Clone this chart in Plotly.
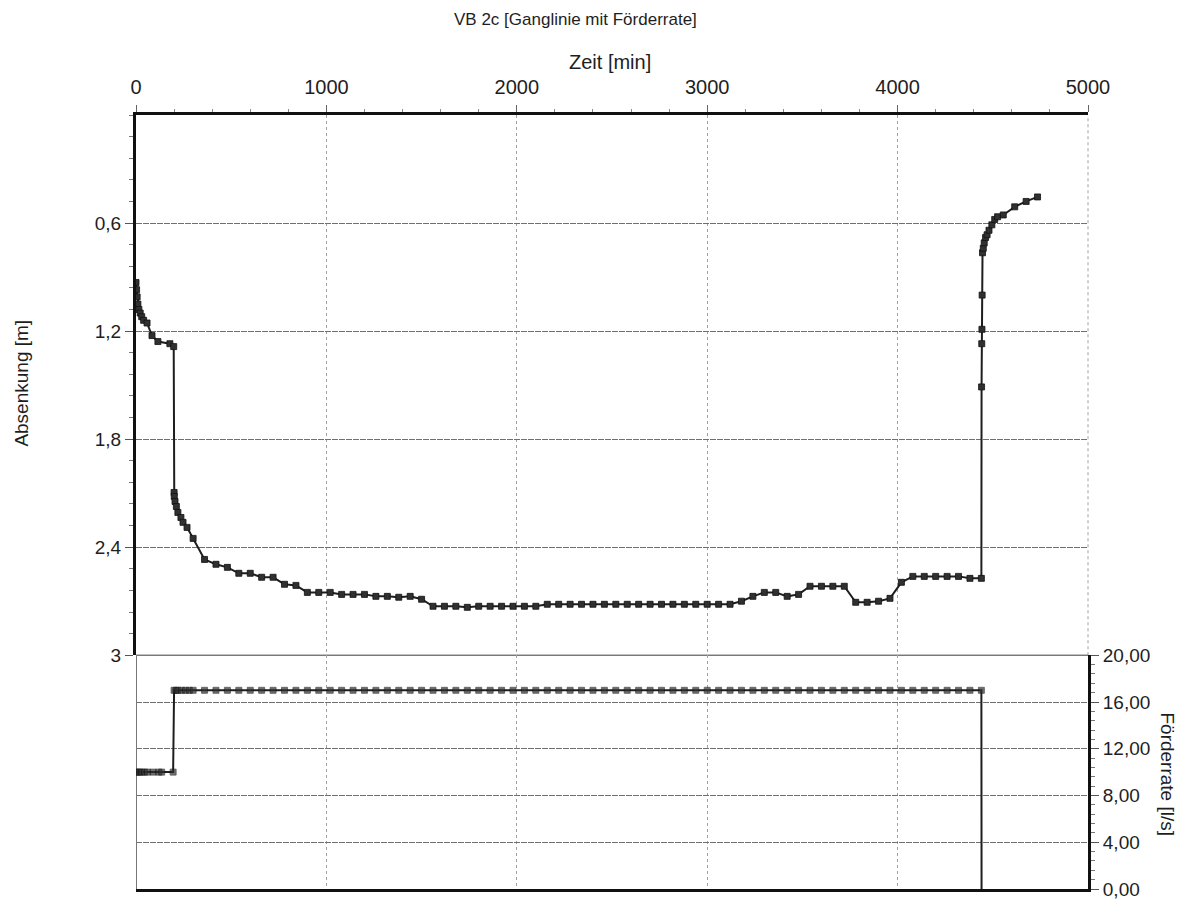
import plotly.graph_objects as go

# ---------------- data ----------------
# Absenkung [m] vs Zeit [min]
stage1_t = [0, 3, 6, 10, 15, 22, 30, 40, 58, 84, 115, 178, 198]
stage1_abs = [0.93, 0.97, 1.01, 1.05, 1.08, 1.10, 1.12, 1.14, 1.155, 1.225, 1.258, 1.27, 1.286]

stage2_t = [200, 201, 205, 212, 220, 236, 247, 268, 300]
stage2_abs = [2.096, 2.118, 2.146, 2.174, 2.207, 2.235, 2.262, 2.290, 2.351]

hourly_t = [360, 420, 480, 540, 600, 660, 720, 780, 840, 900,
            960, 1020, 1080, 1140, 1200, 1260, 1320, 1380, 1440, 1500,
            1560, 1620, 1680, 1740, 1800, 1860, 1920, 1980, 2040, 2100,
            2160, 2220, 2280, 2340, 2400, 2460, 2520, 2580, 2640, 2700,
            2760, 2820, 2880, 2940, 3000, 3060, 3120, 3180, 3240, 3300,
            3360, 3420, 3480, 3540, 3600, 3660, 3720, 3780, 3840, 3900,
            3960, 4020, 4080, 4140, 4200, 4260, 4320, 4380, 4440]
hourly_abs = [2.468, 2.495, 2.512, 2.545, 2.545, 2.567, 2.567, 2.606, 2.612, 2.651,
              2.651, 2.651, 2.662, 2.662, 2.662, 2.673, 2.673, 2.678, 2.673, 2.689,
              2.728, 2.728, 2.728, 2.734, 2.728, 2.728, 2.728, 2.728, 2.728, 2.728,
              2.717, 2.717, 2.717, 2.717, 2.717, 2.717, 2.717, 2.717, 2.717, 2.717,
              2.717, 2.717, 2.717, 2.717, 2.717, 2.717, 2.717, 2.700, 2.673, 2.651,
              2.651, 2.673, 2.662, 2.617, 2.617, 2.617, 2.617, 2.706, 2.706, 2.700,
              2.684, 2.595, 2.562, 2.562, 2.562, 2.562, 2.562, 2.573, 2.573]

recovery_t = [4441, 4442, 4443, 4444, 4446, 4450, 4455, 4462, 4470, 4480,
              4495, 4510, 4525, 4555, 4615, 4675, 4735]
recovery_abs = [1.51, 1.27, 1.19, 1.00, 0.765, 0.74, 0.71, 0.68, 0.665, 0.64,
                0.61, 0.58, 0.565, 0.555, 0.51, 0.48, 0.455]

# Förderrate [l/s]
rate1_t = [0, 10, 20, 30, 45, 60, 90, 120, 135, 195]
rate1_q = [10, 10, 10, 10, 10, 10, 10, 10, 10, 10]
rate2_t = [200, 210, 220, 240, 260, 280, 300]
rate2_q = [17, 17, 17, 17, 17, 17, 17]
hourly_q = [17, 17, 17, 17, 17, 17, 17, 17, 17, 17,
            17, 17, 17, 17, 17, 17, 17, 17, 17, 17,
            17, 17, 17, 17, 17, 17, 17, 17, 17, 17,
            17, 17, 17, 17, 17, 17, 17, 17, 17, 17,
            17, 17, 17, 17, 17, 17, 17, 17, 17, 17,
            17, 17, 17, 17, 17, 17, 17, 17, 17, 17,
            17, 17, 17, 17, 17, 17, 17, 17, 17]
stop_t = [4441]
stop_q = [0]

y_tickvals = [0.6, 1.2, 1.8, 2.4, 3]
y_ticktext = ["0,6", "1,2", "1,8", "2,4", "3"]
q_tickvals = [0, 4, 8, 12, 16, 20]
q_ticktext = ["0,00", "4,00", "8,00", "12,00", "16,00", "20,00"]
x_tickvals = [0, 1000, 2000, 3000, 4000, 5000]

# ---------------- figure ----------------
FONT = "Liberation Sans, Arial, sans-serif"
INK = "#1e1e1e"

abs_t = stage1_t + stage2_t + hourly_t + recovery_t
abs_v = stage1_abs + stage2_abs + hourly_abs + recovery_abs
rate_t = rate1_t + rate2_t + hourly_t + stop_t
rate_q = rate1_q + rate2_q + hourly_q + stop_q
rate_sizes = [6] * (len(rate_t) - len(stop_t)) + [0] * len(stop_t)

fig = go.Figure()
fig.add_trace(go.Scatter(
    x=abs_t, y=abs_v, xaxis="x", yaxis="y", mode="lines+markers",
    line=dict(color=INK, width=2),
    marker=dict(symbol="square", size=6, color="#303030", line=dict(color="#111", width=0.8)),
    showlegend=False, hoverinfo="x+y"))
fig.add_trace(go.Scatter(
    x=rate_t, y=rate_q, xaxis="x2", yaxis="y2", mode="lines+markers",
    line=dict(color=INK, width=2),
    marker=dict(symbol="square", size=rate_sizes, color="#303030", line=dict(color="#111", width=0.8)),
    showlegend=False, hoverinfo="x+y"))

grid_x = dict(showgrid=True, gridcolor="#a0a0a0", gridwidth=1, griddash="dot")
grid_y = dict(showgrid=True, gridcolor="#707070", gridwidth=1, griddash="6px,1px")

# frame lines that Plotly omits at range ends (thin grid-like borders)
frame = [
    dict(type="line", xref="x domain", yref="y domain", x0=1, x1=1, y0=0, y1=1,
         line=dict(color="#a0a0a0", width=1, dash="dot"), layer="below"),
    dict(type="line", xref="x domain", yref="y domain", x0=0, x1=1, y0=0, y1=0,
         line=dict(color="#707070", width=1), layer="below"),
    dict(type="line", xref="x2 domain", yref="y2 domain", x0=0, x1=1, y0=1, y1=1,
         line=dict(color="#707070", width=1), layer="below"),
]

fig.update_layout(
    width=1194, height=904,
    margin=dict(l=128, r=114, t=107, b=21),
    paper_bgcolor="white", plot_bgcolor="white",
    font=dict(family=FONT, color=INK, size=20),
    separators=",.",
    shapes=frame,
    xaxis=dict(domain=[0, 1], anchor="y", side="top", range=[0, 5000],
               tickvals=x_tickvals, ticks="outside", ticklen=7, tickcolor="#666",
               showline=True, linewidth=3, linecolor="#111", zeroline=False,
               tickfont=dict(size=20), ticklabelstandoff=3,
               minor=dict(dtick=200, ticks="outside", ticklen=3, tickcolor="#888", showgrid=False),
               **grid_x),
    xaxis2=dict(domain=[0, 1], anchor="y2", matches="x", range=[0, 5000],
                tickvals=x_tickvals, showticklabels=False, ticks="",
                showline=True, linewidth=3, linecolor="#111",
                zeroline=True, zerolinecolor="#777", zerolinewidth=1,
                **grid_x),
    yaxis=dict(domain=[0.302, 1], anchor="x", range=[3, 0], side="left",
               tickvals=y_tickvals, ticktext=y_ticktext, ticks="outside", ticklen=8,
               tickcolor="#555", showline=True, linewidth=3, linecolor="#111",
               zeroline=False, ticklabelstandoff=0, tickfont=dict(size=19),
               minor=dict(dtick=0.12, ticks="outside", ticklen=4, tickcolor="#777", showgrid=False),
               **grid_y),
    yaxis2=dict(domain=[0, 0.302], anchor="x2", range=[0, 20], side="right",
                tickvals=q_tickvals, ticktext=q_ticktext, ticks="outside", ticklen=8,
                tickcolor="#555", showline=True, linewidth=3, linecolor="#111",
                zeroline=False, ticklabelstandoff=0, tickfont=dict(size=19),
                minor=dict(dtick=0.8, ticks="outside", ticklen=4, tickcolor="#777", showgrid=False),
                **grid_y),
    annotations=[
        dict(text="VB 2c [Ganglinie mit Förderrate]", xref="paper", yref="paper",
             x=0.462, y=1.1237, xanchor="center", yanchor="middle", showarrow=False,
             font=dict(size=17, family=FONT, color=INK)),
        dict(text="Zeit [min]", xref="paper", yref="paper",
             x=0.498, y=1.068, xanchor="center", yanchor="middle", showarrow=False,
             font=dict(size=20, family=FONT, color=INK)),
        dict(text="Absenkung [m]", xref="paper", yref="paper",
             x=-0.1197, y=0.653, xanchor="center", yanchor="middle", showarrow=False,
             textangle=-90, font=dict(size=19, family=FONT, color=INK)),
        dict(text="Förderrate [l/s]", xref="paper", yref="paper",
             x=1.084, y=0.148, xanchor="center", yanchor="middle", showarrow=False,
             textangle=90, font=dict(size=19, family=FONT, color=INK)),
    ],
)

fig.write_html("out.html")
